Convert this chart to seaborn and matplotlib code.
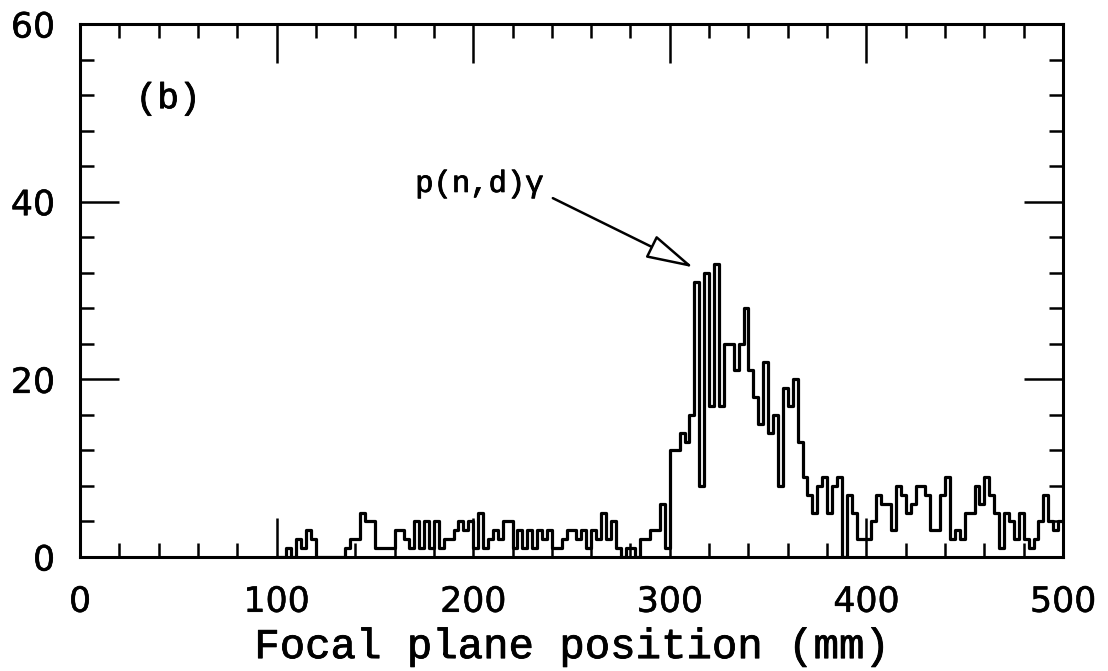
import numpy as np
import pandas as pd
import matplotlib
matplotlib.use("Agg")
import matplotlib.pyplot as plt
import matplotlib.patheffects as pe
import seaborn as sns
from matplotlib.ticker import MultipleLocator

# ---- data (counts per 2.5 mm bin, from 100 mm to 500 mm) ----
bin_start = 100.0
bin_width = 2.5
counts = [
    0, 0, 1, 0, 2, 1, 3, 2, 0, 0,
    0, 0, 0, 0, 1, 2, 2, 5, 4, 4,
    1, 1, 1, 1, 3, 3, 2, 1, 4, 1,
    4, 1, 4, 1, 2, 2, 3, 4, 3, 4,
    1, 5, 1, 2, 3, 2, 4, 4, 1, 3,
    1, 3, 1, 3, 2, 3, 1, 1, 2, 3,
    3, 2, 3, 1, 3, 2, 5, 2, 4, 1,
    0, 1, 1, 0, 2, 2, 3, 3, 6, 1,
    12, 12, 14, 13, 16, 31, 8, 32, 17, 33,
    17, 24, 24, 21, 24, 28, 21, 18, 15, 22,
    14, 16, 8, 19, 17, 20, 13, 9, 7, 5,
    8, 9, 5, 8, 9, 0, 7, 5, 2, 2,
    2, 4, 7, 6, 6, 3, 8, 7, 5, 6,
    8, 8, 7, 3, 3, 7, 9, 2, 3, 2,
    5, 5, 8, 6, 9, 7, 5, 1, 5, 4,
    2, 5, 2, 1, 2, 4, 7, 4, 3, 4,
]
x_ticks = [0, 100, 200, 300, 400, 500]
y_ticks = [0, 20, 40, 60]
x_label = "Focal plane position (mm)"
panel_label = "(b)"
peak_label = "p(n,d)\u03b3"

n = len(counts)
centers = bin_start + bin_width * (np.arange(n) + 0.5)
df = pd.DataFrame({"pos": centers, "count": counts})

sns.set_style("white")
plt.rcParams["font.family"] = ["DejaVu Sans"]
plt.rcParams["text.color"] = "black"
plt.rcParams["xtick.color"] = "black"
plt.rcParams["ytick.color"] = "black"

fig = plt.figure(figsize=(11.08, 6.71), dpi=100)
ax = fig.add_axes([0.0722, 0.1699, 0.8872, 0.7943])

sns.histplot(data=df, x="pos", weights="count", binwidth=bin_width,
             binrange=(bin_start, bin_start + n * bin_width), element="step",
             fill=False, color="black", linewidth=2.3, ax=ax)

ax.set_xlim(0, 500)
ax.set_ylim(0, 60)
ax.set_xticks(x_ticks)
ax.set_yticks(y_ticks)
ax.xaxis.set_minor_locator(MultipleLocator(20))
ax.yaxis.set_minor_locator(MultipleLocator(4))
ax.tick_params(which="both", direction="in", top=True, right=True,
               bottom=True, left=True, color="black", labelcolor="black")
ax.tick_params(which="major", length=28, width=1.8, labelsize=25)
ax.tick_params(which="minor", length=10, width=1.8)
ax.tick_params(axis="x", which="major", pad=20)
ax.tick_params(axis="y", which="major", pad=18)
for s in ax.spines.values():
    s.set_visible(True)
    s.set_color("black")
    s.set_linewidth(2.2)

thin = [pe.withStroke(linewidth=0.4, foreground="black")]
for lab in ax.get_xticklabels() + ax.get_yticklabels():
    lab.set_path_effects(thin)

mono = "Liberation Mono"
medium = [pe.withStroke(linewidth=0.6, foreground="black")]
ax.set_ylabel("")
xl = ax.set_xlabel(x_label, family=mono, fontsize=30.5, color="black", labelpad=6)
xl.set_path_effects(medium)

ax.text(44.8, 51.6, panel_label, family=mono, fontsize=26,
        ha="center", va="center", color="black", path_effects=medium)
ax.text(203, 42.0, peak_label, family=mono, fontsize=22,
        ha="center", va="center", color="black", path_effects=medium)
ax.annotate("", xy=(312, 32.6), xytext=(240.5, 40.4),
            arrowprops=dict(arrowstyle="-|>,head_length=1.35,head_width=0.35",
                            mutation_scale=22, fc="white", ec="black",
                            lw=1.8, shrinkA=0, shrinkB=0))

fig.savefig("out.png", dpi=100)
